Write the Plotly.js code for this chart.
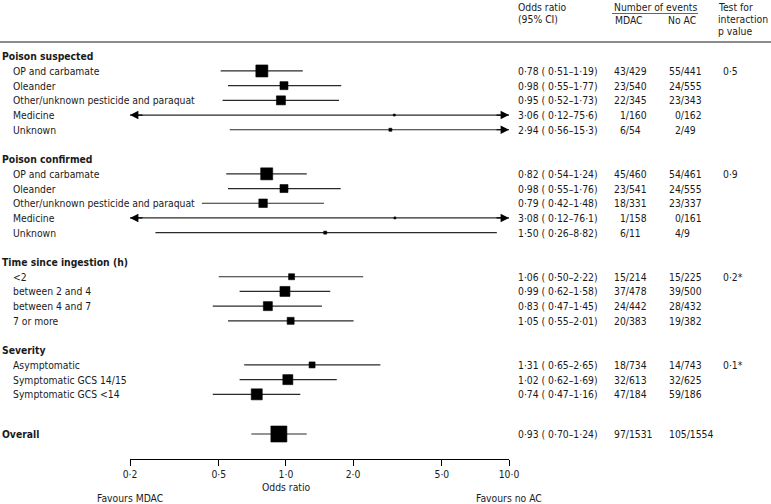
<!DOCTYPE html>
<html>
<head>
<meta charset="utf-8">
<script src="https://cdn.plot.ly/plotly-3.0.1.min.js"></script>
<style>html,body{margin:0;padding:0;background:#fff;}#chart{width:771px;height:504px;}</style>
</head>
<body>
<div id="chart"></div>
<script>
// ---------------- DATA ----------------
const groupNames = ["Poison suspected", "Poison confirmed", "Time since ingestion (h)", "Severity"];
const subgroups = [
  "OP and carbamate", "Oleander", "Other/unknown pesticide and paraquat", "Medicine", "Unknown",
  "OP and carbamate", "Oleander", "Other/unknown pesticide and paraquat", "Medicine", "Unknown",
  "<2", "between 2 and 4", "between 4 and 7", "7 or more",
  "Asymptomatic", "Symptomatic GCS 14/15", "Symptomatic GCS <14",
  "Overall"
];
const groupOf = [0,0,0,0,0, 1,1,1,1,1, 2,2,2,2, 3,3,3, -1];
const oddsRatio = [0.78,0.98,0.95,3.06,2.94, 0.82,0.98,0.79,3.08,1.50, 1.06,0.99,0.83,1.05, 1.31,1.02,0.74, 0.93];
const ciLow     = [0.51,0.55,0.52,0.12,0.56, 0.54,0.55,0.42,0.12,0.26, 0.50,0.62,0.47,0.55, 0.65,0.62,0.47, 0.70];
const ciHigh    = [1.19,1.77,1.73,75.6,15.3, 1.24,1.76,1.48,76.1,8.82, 2.22,1.58,1.45,2.01, 2.65,1.69,1.16, 1.24];
const mdacEvents  = [43,23,22,1,6, 45,23,18,1,6, 15,37,24,20, 18,32,47, 97];
const mdacTotal   = [429,540,345,160,54, 460,541,331,158,11, 214,478,442,383, 734,613,184, 1531];
const noacEvents  = [55,24,23,0,2, 54,24,23,0,4, 15,39,28,19, 14,32,59, 105];
const noacTotal   = [441,555,343,162,49, 461,555,337,161,9, 225,500,432,382, 743,625,186, 1554];
const pInteraction = ["0·5","","","","", "0·9","","","","", "0·2*","","","", "0·1*","","", ""];
// relative weight of each estimate (drawn as box size)
const weight = [12,8,9,2,3, 12,8,8.5,2,3, 6,10,9,7, 6,10,11, 16];
const tickValues = [0.2, 0.5, 1, 2, 5, 10];
const tickLabels = ["0·2", "0·5", "1·0", "2·0", "5·0", "10·0"];

// ---------------- LAYOUT HELPERS ----------------
const W = 771, H = 504;
const PL = 130, PR = 509, PT = 42, PB = 459;
const xmin = tickValues[0], xmax = tickValues[tickValues.length-1];
const px = X => (X - PL) / (PR - PL);
const py = Y => (PB - Y) / (PB - PT);
const FONT = "DejaVu Sans Condensed, Liberation Sans Narrow, Arial Narrow, sans-serif";
const FS = 10.3;
const TXT = "#1a1a1a";

// row positions
const rowY = [];
const headerY = [];
let r = -2, prev = null;
for (let i = 0; i < subgroups.length; i++) {
  const g = groupOf[i];
  if (g !== prev) {
    if (prev !== null) r += 1;
    if (g >= 0) { r += 1; headerY[g] = r; } else { r += 0.7; }
    prev = g;
  }
  r += 1;
  rowY.push(r);
}
const yTop = -1.97, yBot = 26.4;

const fmt = v => (v < 10 ? v.toFixed(2) : v.toFixed(1)).replace('.', '·');
const pad = n => (n < 10 ? '\u2007' : '') + n;

// clipped CIs
const loC = ciLow.map(v => Math.max(v, xmin));
const hiC = ciHigh.map(v => Math.min(v, xmax));

const traces = [{
  type: 'scatter', mode: 'markers',
  x: oddsRatio, y: rowY,
  marker: {symbol: 'square', size: weight, color: '#000', opacity: 1, line: {width: 0.6, color: '#000'}},
  error_x: {
    type: 'data', symmetric: false,
    array: hiC.map((h, i) => h - oddsRatio[i]),
    arrayminus: loC.map((l, i) => oddsRatio[i] - l),
    width: 0, thickness: 1.2, color: '#2a2a2a'
  },
  hoverinfo: 'skip', showlegend: false, cliponaxis: false
}];

const ann = [];
const A = (text, X, y, yref, anchor, extra) => ann.push(Object.assign({
  text, x: px(X), xref: 'paper', y, yref, xanchor: anchor || 'left', yanchor: 'middle',
  showarrow: false, font: {family: FONT, size: FS, color: TXT}
}, extra || {}));

// group headers
groupNames.forEach((g, k) => A('<b>' + g + '</b>', 0, headerY[k], 'y'));
// rows
subgroups.forEach((s, i) => {
  if (groupOf[i] < 0) A('<b>' + s + '</b>', 0, rowY[i], 'y');
  else A(s, 11, rowY[i], 'y');
  A(fmt(oddsRatio[i]) + ' ( ' + fmt(ciLow[i]) + '–' + fmt(ciHigh[i]) + ')', 516, rowY[i], 'y');
  A(pad(mdacEvents[i]) + '/' + mdacTotal[i], 612, rowY[i], 'y');
  A(pad(noacEvents[i]) + '/' + noacTotal[i], 667, rowY[i], 'y');
  if (pInteraction[i]) A(pInteraction[i], 721, rowY[i], 'y');
});
// arrows for truncated CIs
ciLow.forEach((v, i) => {
  if (v < xmin) ann.push({x: Math.log10(xmin), y: rowY[i], xref: 'x', yref: 'y', text: '', showarrow: true,
    ax: 14, ay: 0, axref: 'pixel', ayref: 'pixel', arrowhead: 2, arrowsize: 1.4, arrowwidth: 1.2, arrowcolor: '#000', standoff: 0});
});
ciHigh.forEach((v, i) => {
  if (v > xmax) ann.push({x: Math.log10(xmax), y: rowY[i], xref: 'x', yref: 'y', text: '', showarrow: true,
    ax: -14, ay: 0, axref: 'pixel', ayref: 'pixel', arrowhead: 2, arrowsize: 1.4, arrowwidth: 1.2, arrowcolor: '#000', standoff: 0});
});
// column headers
A('Odds ratio', 516, py(7), 'paper');
A('(95% CI)', 516, py(19), 'paper');
A('Number of events', 612, py(7), 'paper');
A('MDAC', 613, py(20), 'paper');
A('No AC', 698, py(20), 'paper', 'right');
A('Test for', 716, py(7), 'paper');
A('interaction', 716, py(19), 'paper');
A('p value', 716, py(31), 'paper');
// axis texts
A('Odds ratio', 286, py(487), 'paper', 'center');
A('Favours MDAC', PL, py(498), 'paper', 'center');
A('Favours no AC', PR, py(498), 'paper', 'center');

const shapes = [
  {type: 'line', xref: 'paper', yref: 'paper', x0: px(0), x1: px(W), y0: 1, y1: 1, line: {color: '#666', width: 1.5}},
  {type: 'line', xref: 'paper', yref: 'paper', x0: px(612), x1: px(698), y0: py(13.5), y1: py(13.5), line: {color: '#666', width: 1}},
  {type: 'line', xref: 'x', yref: 'paper', x0: 0, x1: 0, y0: 0, y1: 1, line: {color: '#000', width: 1.3}}
];

const layout = {
  width: W, height: H,
  margin: {l: PL, r: W - PR, t: PT, b: H - PB, pad: 0},
  paper_bgcolor: '#fff', plot_bgcolor: '#fff',
  showlegend: false,
  font: {family: FONT, size: FS, color: TXT},
  xaxis: {
    type: 'log', range: [Math.log10(xmin), Math.log10(xmax)],
    tickvals: tickValues, ticktext: tickLabels,
    ticks: 'outside', ticklen: 6, tickwidth: 1, tickcolor: '#000',
    showline: true, linecolor: '#000', linewidth: 1,
    showgrid: false, zeroline: false, fixedrange: true,
    tickfont: {family: FONT, size: FS, color: TXT}
  },
  yaxis: {range: [yBot, yTop], visible: false, showgrid: false, zeroline: false, fixedrange: true},
  annotations: ann,
  shapes: shapes
};

Plotly.newPlot('chart', traces, layout, {displayModeBar: false, staticPlot: true});
</script>
</body>
</html>
